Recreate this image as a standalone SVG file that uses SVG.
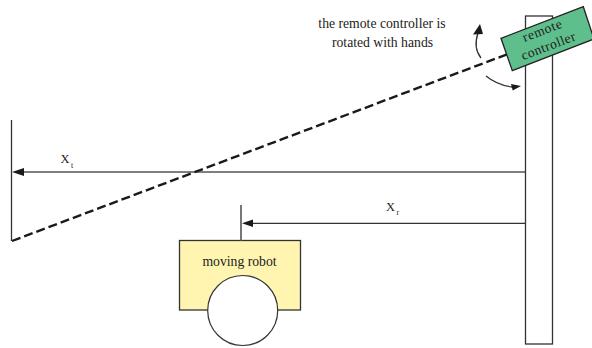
<svg xmlns="http://www.w3.org/2000/svg" width="592" height="348" viewBox="0 0 592 348">
<style>
text{font-family:"Liberation Serif","Times New Roman",serif;fill:#222}
.t{font-size:13.700px}
.ln{fill:none;stroke:#333;stroke-width:1.3}
.g{fill:none;stroke:#555;stroke-width:1.6}
.k{fill:#1a1a1a}
</style>
<rect width="592" height="348" fill="#fff"/>
<g id="wall"><rect x="525.500" y="16" width="27" height="328" fill="#fff" stroke="#333" stroke-width="1.300"/></g>
<g id="target"><line class="ln" x1="11.500" y1="120" x2="11.500" y2="241"/></g>
<g id="robot">
<rect x="179.500" y="240.500" width="121" height="69.500" fill="#fff5b0" stroke="#333" stroke-width="1.300"/>
<circle cx="242.700" cy="310.500" r="35" fill="#fff" stroke="#333" stroke-width="1.200"/>
<line class="g" x1="241" y1="205" x2="241" y2="241"/>
<text class="t" x="239.500" y="266" text-anchor="middle">moving robot</text>
</g>
<g id="connectors">
<line class="g" x1="22" y1="172" x2="525" y2="172"/>
<polygon class="k" points="12,172 24,168 24,176"/>
<line class="ln" x1="252" y1="223.300" x2="525" y2="223.300"/>
<polygon class="k" points="242,223.300 253,219.500 253,227"/>
<line x1="12" y1="241" x2="508" y2="54" fill="none" stroke="#1a1a1a" stroke-width="2.400" stroke-dasharray="9,4"/>
<path class="ln" d="M481,58 Q473,48 478,33"/>
<polygon class="k" points="480,24 473,34.500 483,34"/>
<path class="ln" d="M486,76 Q497,85 512,87"/>
<polygon class="k" points="521,86 511,84 512.700,90.500"/>
</g>
<g id="remote">
<polygon points="501,38.300 583.300,6.700 594,39 512.300,70.700" fill="#5fbf8c" stroke="#222" stroke-width="1.300"/>
<text font-size="13.500" transform="translate(544,34.500) rotate(-21)" text-anchor="middle" letter-spacing="0.700">remote</text>
<text font-size="13.500" transform="translate(550,50) rotate(-21)" text-anchor="middle" letter-spacing="0.500">controller</text>
</g>
<g id="labels">
<text class="t" x="382" y="28.300" text-anchor="middle">the remote controller is</text>
<text class="t" x="382.500" y="46.700" text-anchor="middle">rotated with hands</text>
<text font-size="12.500" x="60.500" y="163.300">X<tspan font-size="8" dx="1.500" dy="4.300">t</tspan></text>
<text font-size="12.500" x="386" y="210.700">X<tspan font-size="8" dx="1.500" dy="4.300">r</tspan></text>
</g>
</svg>
